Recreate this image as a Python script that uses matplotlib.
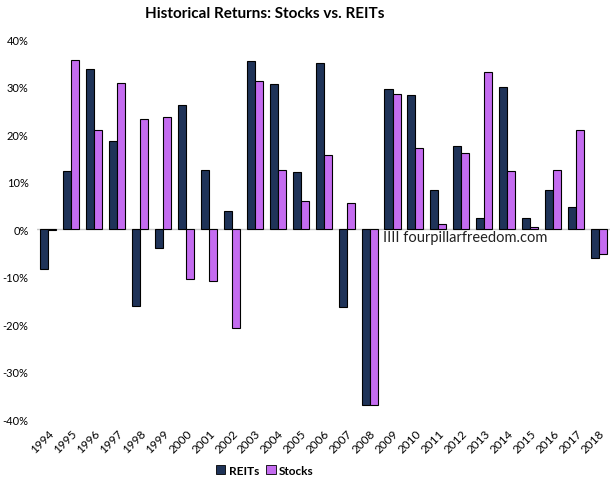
import matplotlib
matplotlib.use("Agg")
import matplotlib.pyplot as plt
import numpy as np
from matplotlib.patches import Patch

years = [str(y) for y in range(1994, 2019)]
reits = [-8.5, 12.2, 33.7, 18.6, -16.2, -4.0, 26.1, 12.4, 3.8, 35.4, 30.6, 11.9, 35.0,
         -16.4, -37.0, 29.5, 28.3, 8.3, 17.4, 2.3, 30.0, 2.3, 8.3, 4.7, -6.1]
stocks = [-0.2, 35.5, 20.9, 30.8, 23.2, 23.6, -10.5, -11.0, -20.8, 31.1, 12.5, 6.0, 15.5,
          5.4, -37.0, 28.4, 17.0, 1.0, 16.1, 33.1, 12.3, 0.4, 12.5, 20.9, -5.2]
yticks = [-40, -30, -20, -10, 0, 10, 20, 30, 40]

plt.rcParams['font.family'] = ['Lato', 'DejaVu Sans']

fig = plt.figure(figsize=(6.16, 4.85), dpi=100)
ax = fig.add_axes([0.06, 0.134, 0.931, 0.7835])

x = np.arange(len(years))
w = 0.35
c_reit = '#1F3358'
c_stock = '#C46CF0'
ax.bar(x - w/2, reits, w, color=c_reit, edgecolor='black', linewidth=0.8, zorder=3)
ax.bar(x + w/2, stocks, w, color=c_stock, edgecolor='black', linewidth=0.8, zorder=3)
ax.axhline(0, color='#C8C8C8', linewidth=1, zorder=2)

ax.set_xlim(-0.5, len(years) - 0.5)
ax.set_ylim(-40, 40)
ax.set_yticks(yticks)
ax.set_yticklabels([f"{v}%" for v in yticks], fontsize=8)
ax.set_xticks(x)
ax.set_xticklabels(years, rotation=45, fontsize=8.5, ha='right', rotation_mode='anchor')
ax.tick_params(axis='both', length=0)
ax.tick_params(axis='y', pad=6)
ax.tick_params(axis='x', pad=6)
for s in ax.spines.values():
    s.set_visible(False)

fig.suptitle("Historical Returns: Stocks vs. REITs", fontsize=11, fontweight='bold',
             y=0.985, x=0.43)

ax.text(14.6, -1.6, "IIII fourpillarfreedom.com", fontsize=10.5, color='#222222',
        ha='left', va='center', zorder=4)

handles = [Patch(facecolor=c_reit, edgecolor='black', linewidth=0.6, label='REITs'),
           Patch(facecolor=c_stock, edgecolor='black', linewidth=0.6, label='Stocks')]
fig.legend(handles=handles, loc='lower center', bbox_to_anchor=(0.43, -0.005), ncol=2,
           frameon=False, prop={'size': 8.5, 'weight': 'bold'}, handlelength=0.8,
           handleheight=0.8, handletextpad=0.3, columnspacing=0.6)

fig.savefig("out.png", dpi=100)
